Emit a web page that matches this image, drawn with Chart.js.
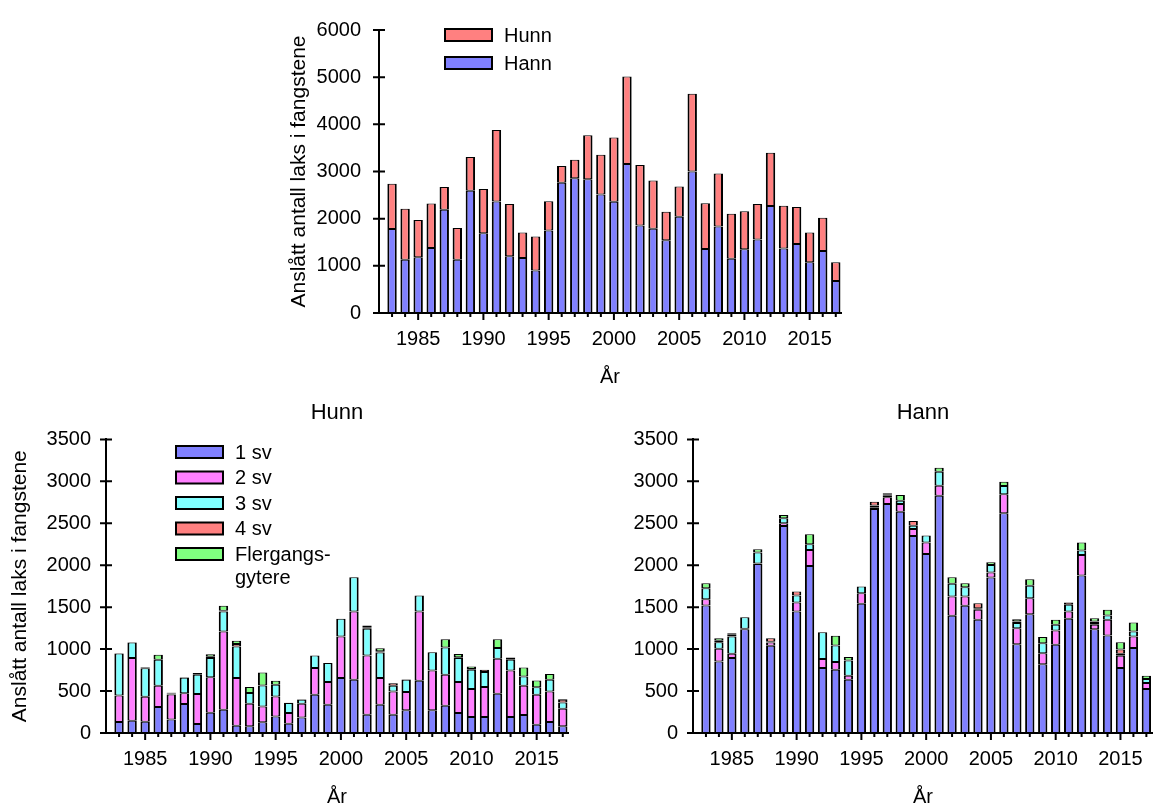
<!DOCTYPE html>
<html>
<head>
<meta charset="utf-8">
<title>Anslått antall laks i fangstene</title>
<script src="https://cdn.jsdelivr.net/npm/chart.js"></script>
<style>
  body { margin: 0; background: #fff; }
  canvas { position: absolute; }
</style>
</head>
<body>
<canvas id="total" width="610" height="395" style="left:250px;top:0px"></canvas>
<canvas id="hunn" width="590" height="414" style="left:0px;top:395px"></canvas>
<canvas id="hann" width="567" height="414" style="left:590px;top:395px"></canvas>
<script>
const years = [1983, 1984, 1985, 1986, 1987, 1988, 1989, 1990, 1991, 1992, 1993, 1994,
  1995, 1996, 1997, 1998, 1999, 2000, 2001, 2002, 2003, 2004, 2005, 2006, 2007, 2008,
  2009, 2010, 2011, 2012, 2013, 2014, 2015, 2016, 2017];
const yearTicks = [1985, 1990, 1995, 2000, 2005, 2010, 2015];
const totalTicks = [0, 1000, 2000, 3000, 4000, 5000, 6000];
const splitTicks = [0, 500, 1000, 1500, 2000, 2500, 3000, 3500];

// top chart: all fish
const hannTotal = [1780, 1130, 1180, 1380, 2190, 1130, 2590, 1690, 2365, 1205, 1165, 900,
  1750, 2760, 2855, 2835, 2515, 2360, 3160, 1855, 1785, 1540, 2040, 3000, 1355, 1835,
  1150, 1350, 1560, 2270, 1370, 1465, 1075, 1315, 680];
const hunnTotal = [960, 1080, 790, 940, 480, 670, 715, 940, 1515, 1105, 540, 720,
  620, 355, 395, 935, 840, 1360, 1855, 1285, 1025, 605, 640, 1650, 970, 1125,
  955, 805, 750, 1130, 905, 785, 630, 705, 395];

// females by sea age
const hunn1 = [130, 145, 135, 310, 160, 345, 107, 240, 278, 87, 80, 127, 198, 111, 186, 456, 337, 655,
  635, 218, 337, 218, 270, 623, 270, 325, 238, 190, 190, 468, 190, 214, 99, 131, 79];
const hunn2 = [318, 750, 297, 253, 300, 130, 357, 425, 932, 568, 270, 190, 238, 127, 163, 318, 270, 496,
  813, 707, 318, 278, 218, 825, 476, 369, 369, 334, 358, 417, 556, 349, 357, 365, 211];
const hunn3 = [500, 185, 340, 310, 10, 185, 230, 230, 238, 377, 127, 250, 139, 119, 48, 150, 226, 210,
  409, 317, 305, 67, 147, 190, 218, 326, 286, 230, 178, 127, 127, 112, 88, 139, 75];
const hunn4 = [3, 3, 10, 0, 10, 5, 0, 15, 10, 30, 0, 0, 0, 5, 5, 0, 0, 0,
  0, 20, 15, 30, 5, 0, 0, 0, 10, 10, 28, 0, 10, 0, 0, 0, 30];
const hunnFl = [3, 2, 5, 60, 2, 3, 20, 30, 60, 37, 70, 155, 48, 0, 3, 0, 0, 0,
  0, 20, 35, 2, 0, 0, 0, 99, 40, 30, 0, 107, 18, 107, 83, 67, 10];

// males by sea age
const hann1 = [1520, 853, 893, 1238, 2016, 1040, 2468, 1448, 1992, 774, 754, 635, 1540, 2671, 2730, 2639, 2349, 2135,
  2829, 1397, 1516, 1349, 1853, 2619, 1059, 1417, 821, 1052, 1361, 1877, 1238, 1163, 774, 1012, 524];
const hann2 = [75, 151, 51, 5, 5, 39, 32, 107, 190, 107, 91, 48, 127, 20, 79, 91, 83, 135,
  119, 230, 111, 119, 60, 226, 191, 190, 131, 170, 87, 246, 52, 186, 147, 139, 71];
const hann3 = [131, 79, 207, 138, 130, 10, 59, 84, 68, 321, 199, 182, 79, 20, 20, 40, 40, 83,
  167, 151, 111, 20, 91, 99, 60, 147, 119, 68, 80, 52, 20, 52, 25, 59, 48];
const hann4 = [0, 18, 19, 0, 0, 40, 0, 47, 0, 0, 0, 0, 0, 47, 10, 0, 56, 0,
  0, 0, 0, 60, 0, 0, 20, 0, 0, 0, 27, 0, 20, 0, 50, 0, 0];
const hannFl = [60, 30, 20, 0, 40, 0, 40, 0, 119, 0, 115, 40, 0, 0, 18, 67, 0, 0,
  48, 79, 48, 0, 32, 52, 27, 79, 72, 59, 0, 95, 39, 67, 87, 107, 40];

const FONT = "'Liberation Sans', Arial, sans-serif";
const BLUE = '#8080ff', RED = '#ff8080', PINK = '#ff80ff', CYAN = '#80ffff', GREEN = '#80ff80';

// tick marks: y ticks cross the axis, x ticks hang below (long every 5 years)
const axisMarks = {
  id: 'axisMarks',
  afterDraw(chart) {
    const ctx = chart.ctx, a = chart.chartArea;
    const xs = chart.scales.x, ys = chart.scales.y;
    ctx.save();
    ctx.strokeStyle = '#000';
    ctx.lineWidth = 2;
    ctx.beginPath();
    ys.ticks.forEach(t => {
      const py = ys.getPixelForValue(t.value);
      ctx.moveTo(a.left - 6, py);
      ctx.lineTo(a.left + 6, py);
    });
    years.forEach(v => {
      const px = xs.getPixelForValue(v);
      ctx.moveTo(px, a.bottom);
      ctx.lineTo(px, a.bottom + (v % 5 === 0 ? 7 : 4));
    });
    ctx.stroke();
    ctx.restore();
  }
};

// legend drawn at a fixed spot inside the plot
const boxLegend = {
  id: 'boxLegend',
  afterDraw(chart, args, opts) {
    if (!opts.items) return;
    const ctx = chart.ctx;
    ctx.save();
    ctx.font = '20px ' + FONT;
    ctx.textBaseline = 'middle';
    opts.items.forEach((i, n) => {
      const ds = chart.data.datasets[i];
      const cy = opts.y + n * opts.step;
      ctx.fillStyle = ds.backgroundColor;
      ctx.fillRect(opts.x, cy - 6, 47, 12);
      ctx.lineWidth = 2;
      ctx.strokeStyle = '#000';
      ctx.strokeRect(opts.x, cy - 6, 47, 12);
      ctx.fillStyle = '#000';
      ds.label.split('\n').forEach((line, k) => ctx.fillText(line, opts.x + 59, cy + 1 + k * 23));
    });
    ctx.restore();
  }
};

function series(label, data, color) {
  return {
    label: label, data: data, backgroundColor: color,
    borderColor: '#000', borderWidth: { left: 2, right: 2, top: 1, bottom: 1 }, borderSkipped: false,
    barPercentage: 0.72, categoryPercentage: 1
  };
}

function makeChart(id, datasets, cfg) {
  const font = { family: FONT, size: 20 };
  return new Chart(document.getElementById(id), {
    type: 'bar',
    data: { labels: years, datasets: datasets },
    plugins: [axisMarks, boxLegend],
    options: {
      responsive: false,
      animation: false,
      layout: { padding: cfg.padding },
      plugins: {
        legend: { display: false },
        tooltip: { enabled: false },
        title: {
          display: !!cfg.title, text: cfg.title, fullSize: false, color: '#000',
          font: { family: FONT, size: 22, weight: 'normal' },
          padding: { top: 5, bottom: 13 }
        },
        boxLegend: cfg.legend || {}
      },
      scales: {
        x: {
          type: 'linear', stacked: true, bounds: 'data', offset: false,
          min: 1982, max: cfg.xMax,
          afterBuildTicks: s => { s.ticks = yearTicks.map(v => ({ value: v })); },
          afterFit: s => { s.height = cfg.xHeight; },
          ticks: { callback: v => String(v), font: font, color: '#000', padding: 14, maxRotation: 0, autoSkip: false },
          grid: { display: false, drawTicks: false, offset: false },
          border: { color: '#000', width: 2 },
          title: { display: true, text: 'År', font: font, color: '#000', padding: { top: 0, bottom: cfg.xTitlePad } }
        },
        y: {
          stacked: true, bounds: 'data', min: 0, max: cfg.yTicks[cfg.yTicks.length - 1],
          afterBuildTicks: s => { s.ticks = cfg.yTicks.map(v => ({ value: v })); },
          afterFit: s => { s.width = cfg.yWidth; },
          ticks: { callback: v => String(v), font: font, color: '#000', padding: cfg.yPad },
          grid: { display: false, drawTicks: false },
          border: { color: '#000', width: 2 },
          title: {
            display: cfg.yTitle, text: 'Anslått antall laks i fangstene', color: '#000',
            font: { family: FONT, size: 21 }, padding: { top: cfg.yTitlePad, bottom: 0 }
          }
        }
      }
    }
  });
}

makeChart('total', [
  series('Hann', hannTotal, BLUE),
  series('Hunn', hunnTotal, RED)
], {
  padding: { top: 19, right: 19, left: 0, bottom: 0 },
  xMax: 2017.4, xHeight: 82, xTitlePad: 6,
  yTicks: totalTicks, yWidth: 129, yPad: 18, yTitle: true, yTitlePad: 37,
  legend: { x: 195, y: 35, step: 28, items: [1, 0] }
});

const sjøvinter = ['1 sv', '2 sv', '3 sv', '4 sv', 'Flergangs-\ngytere'];

makeChart('hunn', [
  series(sjøvinter[0], hunn1, BLUE),
  series(sjøvinter[1], hunn2, PINK),
  series(sjøvinter[2], hunn3, CYAN),
  series(sjøvinter[3], hunn4, RED),
  series(sjøvinter[4], hunnFl, GREEN)
], {
  title: 'Hunn',
  padding: { top: 0, right: 22, left: 0, bottom: 0 },
  xMax: 2017.4, xHeight: 76, xTitlePad: 0,
  yTicks: splitTicks, yWidth: 106, yPad: 15, yTitle: true, yTitlePad: 8,
  legend: { x: 176, y: 57, step: 25.5, items: [0, 1, 2, 3, 4] }
});

makeChart('hann', [
  series(sjøvinter[0], hann1, BLUE),
  series(sjøvinter[1], hann2, PINK),
  series(sjøvinter[2], hann3, CYAN),
  series(sjøvinter[3], hann4, RED),
  series(sjøvinter[4], hannFl, GREEN)
], {
  title: 'Hann',
  padding: { top: 0, right: 0, left: 0, bottom: 0 },
  xMax: 2017.5, xHeight: 76, xTitlePad: 0,
  yTicks: splitTicks, yWidth: 103, yPad: 15, yTitle: false, yTitlePad: 0
});
</script>
</body>
</html>
